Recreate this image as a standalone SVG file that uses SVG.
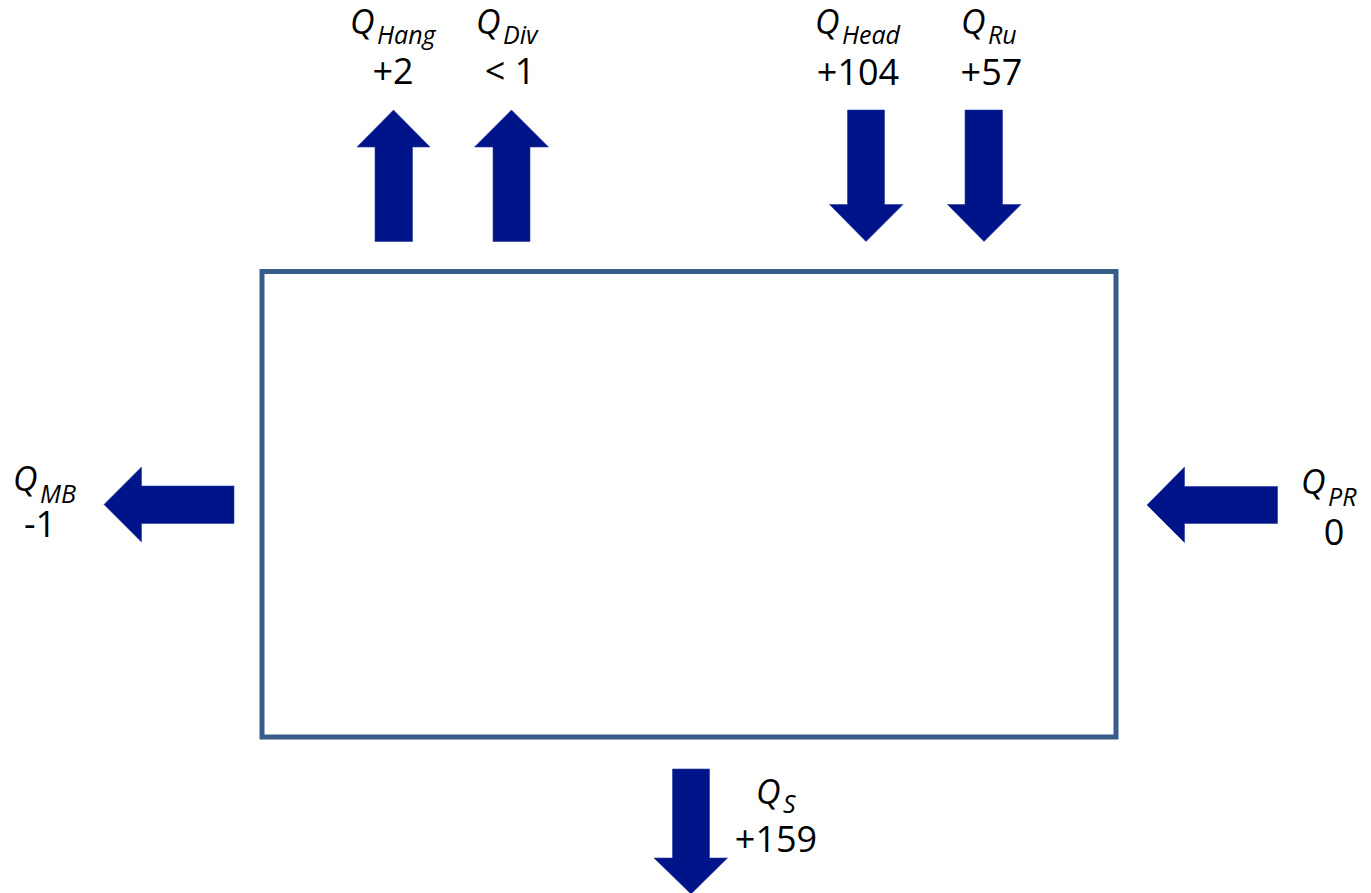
<svg xmlns="http://www.w3.org/2000/svg" width="1371" height="893" viewBox="0 0 1371 893">
<style>
.arrow{fill:#00148A;stroke:#2a3a9a;stroke-width:0.6}
.lbl{font-family:"Open Sans","Liberation Sans",sans-serif;font-style:italic;font-size:34px;fill:#000}
.sub{font-size:25px}
.num{font-family:"Open Sans","Liberation Sans",sans-serif;font-size:36px;fill:#000;text-anchor:middle}
.box{fill:#fff;stroke:#385D8A;stroke-width:5}
</style>
<rect width="1371" height="893" fill="#fff"/>
<g id="system">
<rect class="box" x="262" y="271.5" width="854" height="465.5"/>
</g>
<g id="connectors">
<polygon id="arrow-hang" class="arrow" points="393.5,110 430,147 412.5,147 412.5,241.5 375,241.5 375,147 357,147"/>
<polygon id="arrow-div" class="arrow" points="511.5,110 548.5,147 530,147 530,241.5 493,241.5 493,147 474.5,147"/>
<polygon id="arrow-head" class="arrow" points="847.5,110 884.5,110 884.5,204.5 903,204.5 866,241.5 829.5,204.5 847.5,204.5"/>
<polygon id="arrow-ru" class="arrow" points="965,110 1002.5,110 1002.5,204.5 1021,204.5 984,241.5 947.5,204.5 965,204.5"/>
<polygon id="arrow-mb" class="arrow" points="234,486 234,523.5 141.5,523.5 141.5,542 104,504.5 141.5,467 141.5,486"/>
<polygon id="arrow-pr" class="arrow" points="1277.5,486.5 1277.5,523.5 1184.5,523.5 1184.5,542.5 1147,505 1184.5,467 1184.5,486.5"/>
<polygon id="arrow-s" class="arrow" points="672.5,769 709.5,769 709.5,858 727.5,858 691,894 654,858 672.5,858"/>
</g>
<g id="label-hang">
<text class="lbl" x="350" y="34">Q<tspan class="sub" x="377" y="44">Hang</tspan></text>
<text class="num" x="393" y="84">+2</text>
</g>
<g id="label-div">
<text class="lbl" x="476" y="34">Q<tspan class="sub" x="503" y="44">Div</tspan></text>
<text class="num" x="510" y="84">&lt; 1</text>
</g>
<g id="label-head">
<text class="lbl" x="815" y="34">Q<tspan class="sub" x="842" y="44">Head</tspan></text>
<text class="num" x="858" y="85">+104</text>
</g>
<g id="label-ru">
<text class="lbl" x="961" y="34">Q<tspan class="sub" x="988" y="44">Ru</tspan></text>
<text class="num" x="991.5" y="85">+57</text>
</g>
<g id="label-mb">
<text class="lbl" x="13" y="491">Q<tspan class="sub" x="40" y="503">MB</tspan></text>
<text class="num" x="40" y="537">-1</text>
</g>
<g id="label-pr">
<text class="lbl" x="1301" y="494">Q<tspan class="sub" x="1328" y="506">PR</tspan></text>
<text class="num" x="1334" y="545">0</text>
</g>
<g id="label-s">
<text class="lbl" x="756" y="804">Q<tspan class="sub" x="783" y="813">S</tspan></text>
<text class="num" x="776" y="852">+159</text>
</g>
</svg>
